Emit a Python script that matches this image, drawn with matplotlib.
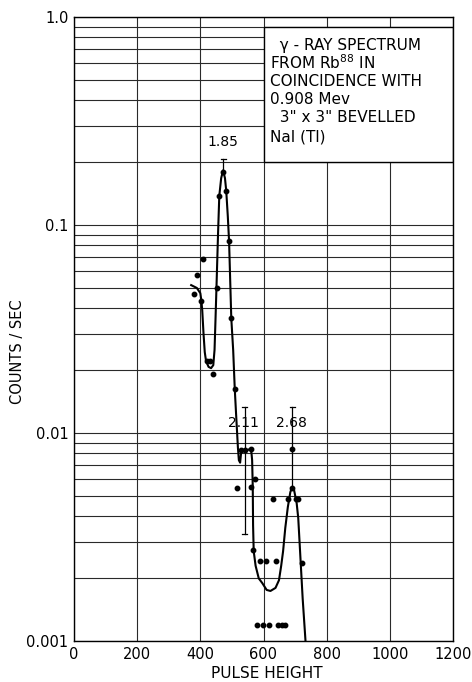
import numpy as np
import matplotlib
matplotlib.use("Agg")
import matplotlib.pyplot as plt
from matplotlib.patches import Rectangle

# measured points (pulse height, counts/sec)
pulse = [379, 390, 402, 410, 421, 430, 440, 453, 460, 472, 482, 491, 498,
         509, 516, 529, 540, 559, 561, 567, 572, 589, 608, 641, 630, 678,
         691, 691, 702, 709, 721, 579, 597, 617, 647, 659, 668]
counts = [0.0466, 0.0573, 0.0433, 0.0689, 0.0223, 0.0223, 0.0192, 0.0496,
          0.138, 0.18, 0.146, 0.0835, 0.0356, 0.0163, 0.00546, 0.0083,
          0.0083, 0.0084, 0.00548, 0.00274, 0.00603, 0.00243, 0.00243,
          0.00243, 0.00483, 0.00483, 0.0084, 0.00542, 0.0048, 0.0048,
          0.00238, 0.0012, 0.0012, 0.0012, 0.0012, 0.0012, 0.0012]

# hand drawn fit curve
curve_x = [371, 389, 400, 403, 406, 410, 414, 418, 426, 434, 441, 445, 448,
           451, 456, 460, 466, 472, 478, 482, 487, 491, 498, 504, 509, 513,
           516, 519, 522, 526, 530, 543, 559, 562, 564, 566, 567, 569, 575,
           585, 596, 610, 622, 638, 649, 656, 662, 669, 677, 685, 691, 697,
           705, 710, 717, 724, 730, 733]
curve_y = [0.0514, 0.0498, 0.047, 0.0436, 0.039, 0.0302, 0.0245, 0.0222,
           0.0208, 0.0205, 0.0212, 0.0251, 0.035, 0.0496, 0.09, 0.138, 0.168,
           0.183, 0.168, 0.146, 0.11, 0.0835, 0.0356, 0.025, 0.0163, 0.0125,
           0.0103, 0.0085, 0.0074, 0.0072, 0.0083, 0.0082, 0.0084, 0.008,
           0.0074, 0.0055, 0.0036, 0.0027, 0.0023, 0.002, 0.0019, 0.00176,
           0.00174, 0.0018, 0.00196, 0.0023, 0.0027, 0.0035, 0.0044, 0.0052,
           0.0055, 0.0053, 0.0046, 0.0039, 0.0025, 0.0016, 0.00117, 0.001]

# error bars
err_x = [472, 540, 691]
err_lo = [0.18, 0.00326, 0.0054]
err_hi = [0.207, 0.0134, 0.0134]
err_lowcap = [False, True, False]

# peak energies (Mev)
peak_names = ["1.85", "2.11", "2.68"]
peak_x = [472, 537, 689]
peak_y = [0.25, 0.0112, 0.0112]

box_lines = ["  \u03b3 - RAY SPECTRUM", "FROM Rb$^{88}$ IN", "COINCIDENCE WITH",
             "0.908 Mev", "  3\" x 3\" BEVELLED", "NaI (Tl)"]

plt.rcParams['font.family'] = ['DejaVu Sans']

fig = plt.figure(figsize=(4.72, 6.82), dpi=100)
ax = fig.add_axes([74 / 472, 1 - 641 / 682, 379 / 472, 624 / 682])

ax.set_yscale('log')
ax.set_xlim(0, 1200)
ax.set_ylim(0.001, 1.0)
ax.set_xticks(np.arange(0, 1201, 200))
ax.set_yticks([0.001, 0.01, 0.1, 1.0])
ax.set_yticklabels(["0.001", "0.01", "0.1", "1.0"])
ax.tick_params(which='both', length=0, labelsize=10.5, pad=4)

ax.grid(True, which='both', axis='y', color='#2a2a2a', lw=0.8)
ax.grid(True, which='major', axis='x', color='#2a2a2a', lw=0.8)
ax.set_axisbelow(True)
for s in ax.spines.values():
    s.set_linewidth(1.0)

# legend-like box over the grid
ax.add_patch(Rectangle((600, 0.2), 600, 0.7, facecolor='white',
                       edgecolor='black', lw=1.0, zorder=2))
box_ys = [0.733, 0.601, 0.487, 0.403, 0.327, 0.265]
for txt, yy in zip(box_lines, box_ys):
    ax.text(622, yy, txt, fontsize=11, va='center', ha='left', zorder=3)

ax.plot(curve_x, curve_y, color='black', lw=1.5, zorder=4)
ax.plot(pulse, counts, 'o', color='black', ms=3.2, zorder=5)

for x, lo, hi, lc in zip(err_x, err_lo, err_hi, err_lowcap):
    ax.plot([x, x], [lo, hi], color='black', lw=0.9, zorder=4)
    ax.plot([x - 8, x + 8], [hi, hi], color='black', lw=0.9, zorder=4)
    if lc:
        ax.plot([x - 8, x + 8], [lo, lo], color='black', lw=0.9, zorder=4)

for name, x, y in zip(peak_names, peak_x, peak_y):
    ax.text(x, y, name, fontsize=10, ha='center', va='center', zorder=6)

fig.text(18 / 472, 1 - 352 / 682, "COUNTS / SEC", rotation=90,
         fontsize=10.5, ha='center', va='center')
fig.text(267 / 472, 1 - 674 / 682, "PULSE HEIGHT", fontsize=11,
         ha='center', va='center')

fig.savefig("out.png", dpi=100)
